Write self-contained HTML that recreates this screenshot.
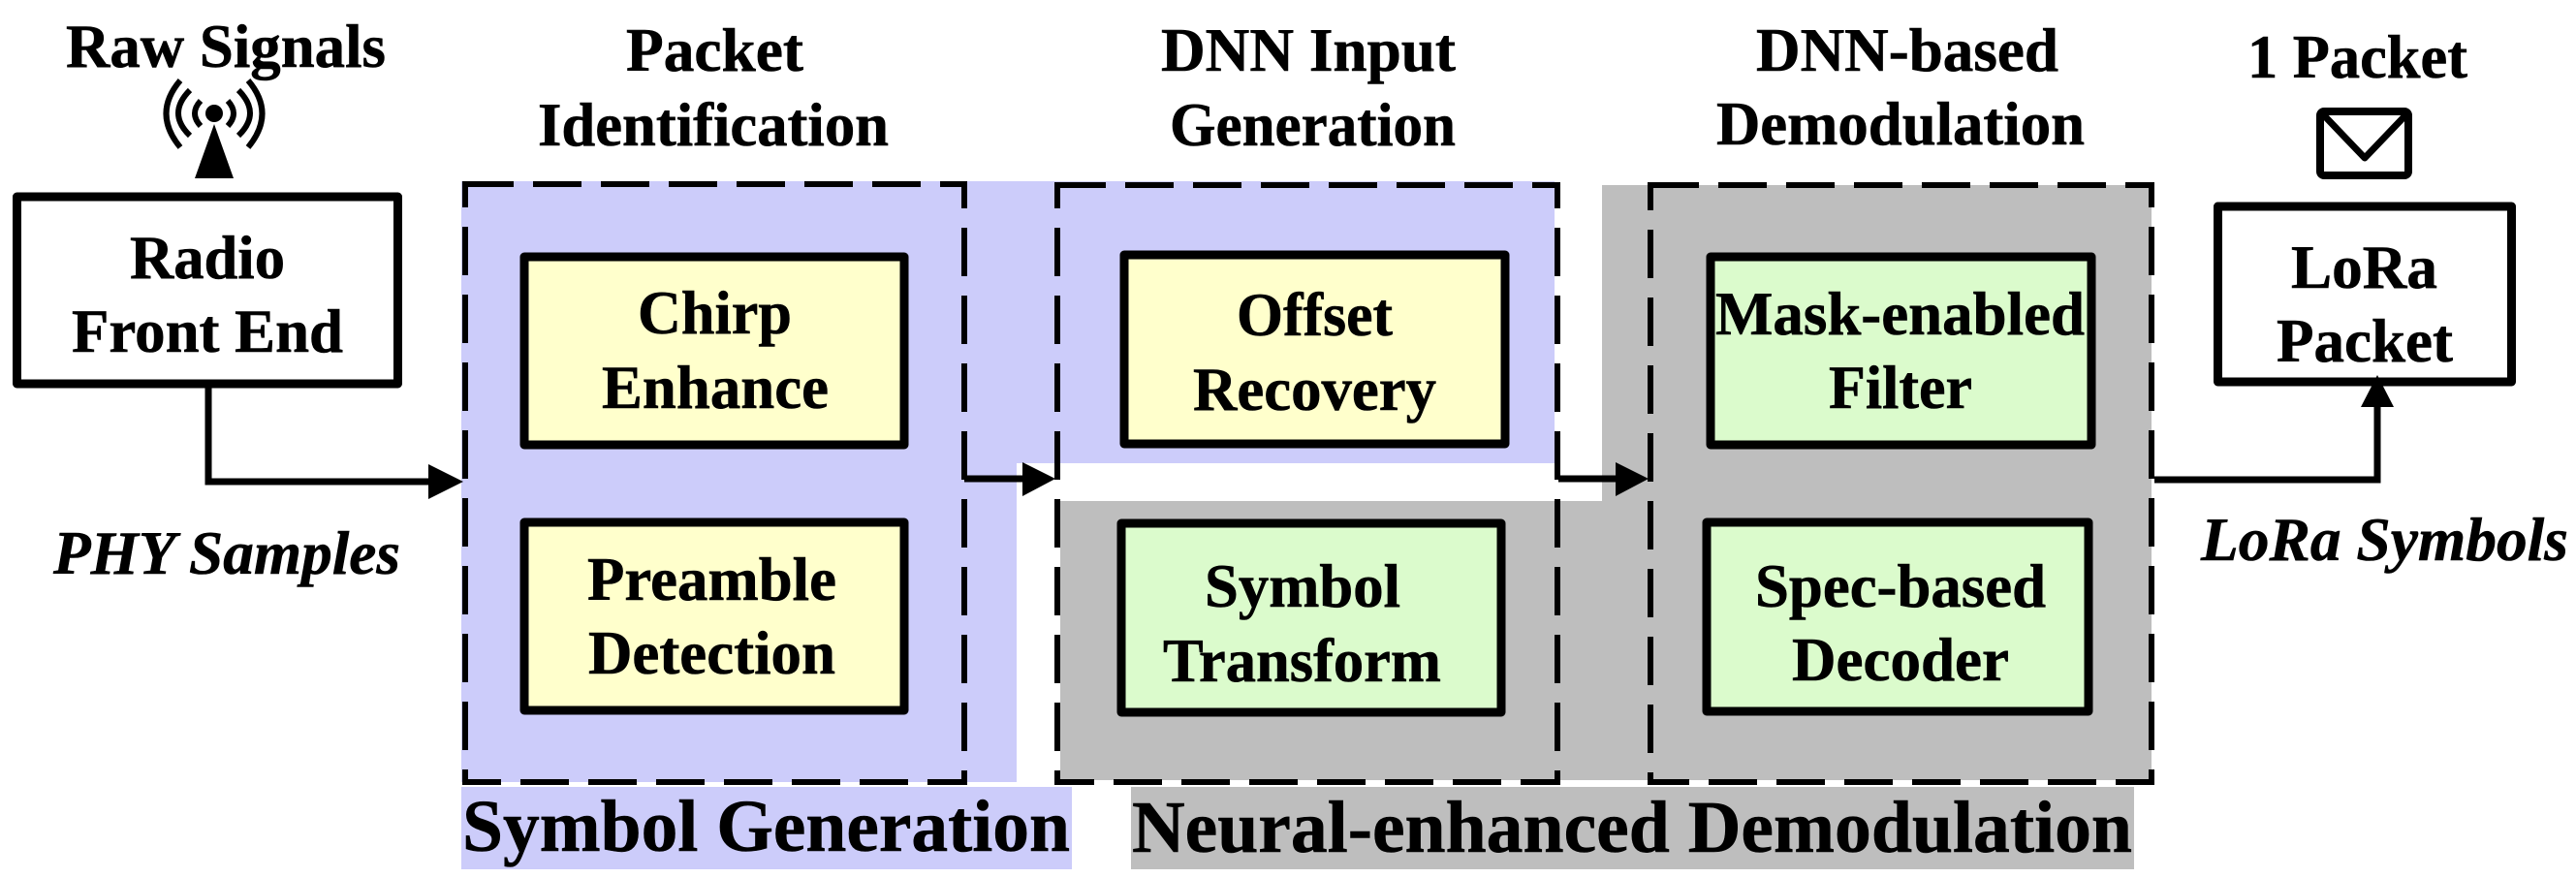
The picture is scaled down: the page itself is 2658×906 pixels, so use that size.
<!DOCTYPE html>
<html><head><meta charset="utf-8"><style>
html,body{margin:0;padding:0;background:#fff;width:2658px;height:906px;overflow:hidden}
svg{display:block}
text{font-family:"Liberation Serif",serif;font-weight:bold;fill:#000;stroke:#000;stroke-width:.6px}
.n{font-size:63px}
.b{font-size:76px}
.i{font-size:64px;font-style:italic}
.d{fill:none;stroke:#000;stroke-width:6;stroke-dasharray:50 20}
.c{stroke:#000;stroke-width:9;stroke-linejoin:round}
.l{fill:none;stroke:#000;stroke-width:7}
</style></head><body>
<svg width="2658" height="906" viewBox="0 0 2658 906" xmlns="http://www.w3.org/2000/svg">
<polygon points="476,187 1604,187 1604,478 1049,478 1049,807 476,807" fill="#ccccfa"/>
<polygon points="1653,191 2220,191 2220,805 1094,805 1094,517 1653,517" fill="#bebebe"/>
<rect x="476" y="812" width="630" height="85" fill="#ccccfa"/>
<rect x="1167" y="812" width="1035" height="85" fill="#bebebe"/>

<rect class="d" x="480" y="190" width="515" height="617"/>
<rect class="d" x="1091" y="191" width="516" height="616"/>
<rect class="d" x="1703" y="191" width="517" height="616"/>

<rect class="c" x="17.5" y="203" width="393" height="193" fill="#fff"/>
<rect class="c" x="2288.5" y="213" width="303" height="181" fill="#fff"/>
<rect class="c" x="541" y="265" width="392" height="194" fill="#ffffcc"/>
<rect class="c" x="541" y="539" width="392" height="194" fill="#ffffcc"/>
<rect class="c" x="1160" y="263" width="393" height="195" fill="#ffffcc"/>
<rect class="c" x="1157" y="540" width="392" height="195" fill="#dbfbcc"/>
<rect class="c" x="1765" y="265" width="393" height="194" fill="#dbfbcc"/>
<rect class="c" x="1761" y="539" width="394" height="195" fill="#dbfbcc"/>

<polyline class="l" points="215,400 215,497 445,497"/>
<polygon points="442,479 478,497 442,515"/>
<line class="l" x1="995" y1="494" x2="1058" y2="494"/>
<polygon points="1055,477 1089,494 1055,512"/>
<line class="l" x1="1608" y1="494" x2="1670" y2="494"/>
<polygon points="1667,477 1701,494 1667,512"/>
<polyline class="l" points="2223,495 2453,495 2453,417"/>
<polygon points="2436,420 2453,387 2470,420"/>

<polygon points="221,128 201,184 241,184"/>
<circle cx="221" cy="117" r="9"/>
<g fill="none" stroke="#000" stroke-width="6">
<path d="M186,83 Q157,117 186,152"/><path d="M256,83 Q285,117 256,152"/>
<path d="M196,93 Q172,117 196,140"/><path d="M246,93 Q270,117 246,140"/>
<path d="M207,104 Q195,117 207,130"/><path d="M235,104 Q247,117 235,130"/>
</g>
<rect x="2394" y="115" width="91" height="66" rx="4" fill="#fff" stroke="#000" stroke-width="8"/>
<polyline points="2396,117 2440,163 2484,117" fill="none" stroke="#000" stroke-width="7" stroke-linejoin="round"/>

<text class="n" x="68" y="69" textLength="330" lengthAdjust="spacingAndGlyphs">Raw Signals</text>
<text class="n" x="646" y="73" textLength="183" lengthAdjust="spacingAndGlyphs">Packet</text>
<text class="n" x="555" y="150" textLength="362" lengthAdjust="spacingAndGlyphs">Identification</text>
<text class="n" x="1198" y="73" textLength="304" lengthAdjust="spacingAndGlyphs">DNN Input</text>
<text class="n" x="1207" y="150" textLength="295" lengthAdjust="spacingAndGlyphs">Generation</text>
<text class="n" x="1812" y="73" textLength="312" lengthAdjust="spacingAndGlyphs">DNN-based</text>
<text class="n" x="1771" y="149" textLength="380" lengthAdjust="spacingAndGlyphs">Demodulation</text>
<text class="n" x="2319" y="80" textLength="227" lengthAdjust="spacingAndGlyphs">1 Packet</text>
<text class="n" x="134" y="287" textLength="160" lengthAdjust="spacingAndGlyphs">Radio</text>
<text class="n" x="74" y="363" textLength="280" lengthAdjust="spacingAndGlyphs">Front End</text>
<text class="n" x="658" y="344" textLength="159" lengthAdjust="spacingAndGlyphs">Chirp</text>
<text class="n" x="621" y="421" textLength="234" lengthAdjust="spacingAndGlyphs">Enhance</text>
<text class="n" x="606" y="619" textLength="257" lengthAdjust="spacingAndGlyphs">Preamble</text>
<text class="n" x="607" y="695" textLength="255" lengthAdjust="spacingAndGlyphs">Detection</text>
<text class="n" x="1276" y="346" textLength="161" lengthAdjust="spacingAndGlyphs">Offset</text>
<text class="n" x="1231" y="423" textLength="251" lengthAdjust="spacingAndGlyphs">Recovery</text>
<text class="n" x="1243" y="626" textLength="202" lengthAdjust="spacingAndGlyphs">Symbol</text>
<text class="n" x="1200" y="703" textLength="287" lengthAdjust="spacingAndGlyphs">Transform</text>
<text class="n" x="1770" y="345" textLength="381" lengthAdjust="spacingAndGlyphs">Mask-enabled</text>
<text class="n" x="1887" y="421" textLength="148" lengthAdjust="spacingAndGlyphs">Filter</text>
<text class="n" x="1811" y="626" textLength="300" lengthAdjust="spacingAndGlyphs">Spec-based</text>
<text class="n" x="1849" y="702" textLength="224" lengthAdjust="spacingAndGlyphs">Decoder</text>
<text class="n" x="2364" y="297" textLength="151" lengthAdjust="spacingAndGlyphs">LoRa</text>
<text class="n" x="2349" y="373" textLength="182" lengthAdjust="spacingAndGlyphs">Packet</text>
<text class="i" x="55" y="592" textLength="358" lengthAdjust="spacingAndGlyphs">PHY Samples</text>
<text class="i" x="2271" y="578" textLength="379" lengthAdjust="spacingAndGlyphs">LoRa Symbols</text>
<text class="b" x="477" y="878" textLength="627" lengthAdjust="spacingAndGlyphs">Symbol Generation</text>
<text class="b" x="1168" y="879" textLength="1032" lengthAdjust="spacingAndGlyphs">Neural-enhanced Demodulation</text>
</svg>
</body></html>
